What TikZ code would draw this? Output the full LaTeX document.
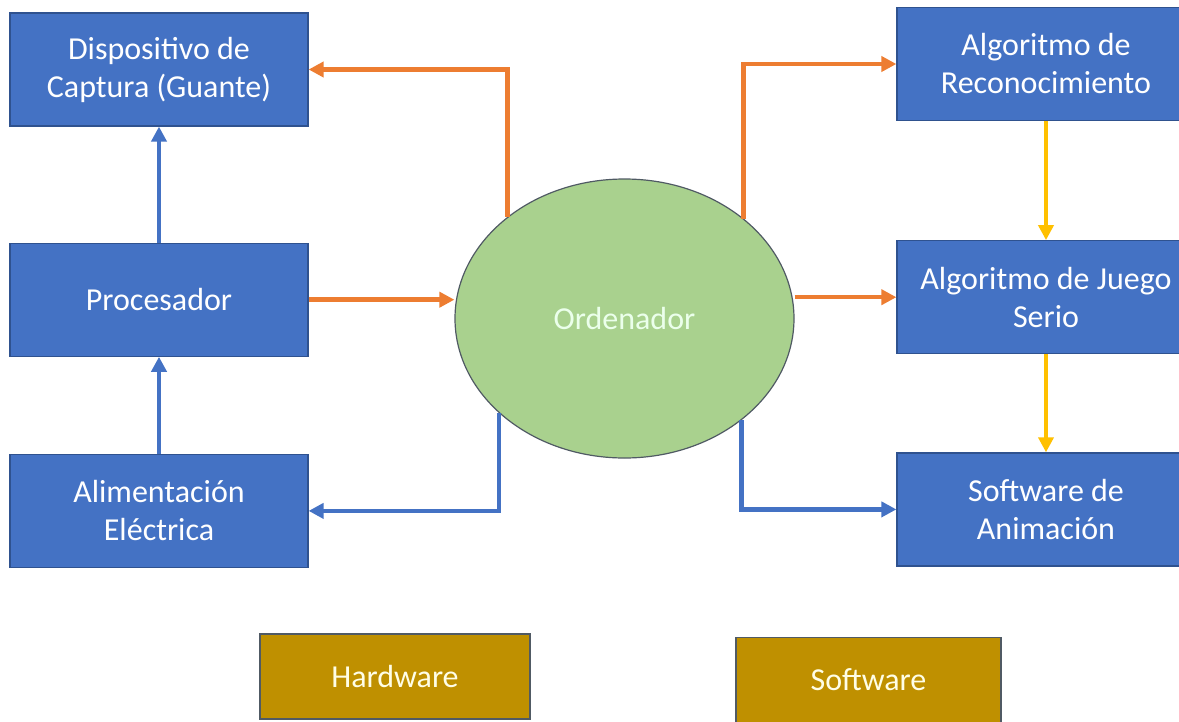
\documentclass[tikz,border=0pt]{standalone}
\usepackage{fontspec}
\setmainfont{Carlito}
\usepackage{tikz}
\usetikzlibrary{positioning, arrows.meta, shapes.geometric}
\definecolor{ofBlue}{RGB}{68,114,196}
\definecolor{ofBlueDark}{RGB}{47,82,143}
\definecolor{ofOrange}{RGB}{237,125,49}
\definecolor{ofYellow}{RGB}{255,192,0}
\definecolor{ofGreen}{RGB}{169,209,142}
\definecolor{ofGold}{RGB}{191,144,0}
\definecolor{ofSlate}{RGB}{80,90,100}

\begin{document}
\begin{tikzpicture}[
    x=1pt, y=-1pt,
    block/.style={rectangle, draw=ofBlueDark, line width=1.2pt, fill=ofBlue, text=white, minimum width=298pt, minimum height=113pt, inner sep=0pt, align=center, font=\fontsize{32}{38}\selectfont},
    legend/.style={block, draw=ofSlate, fill=ofGold, text=white!90!yellow, minimum height=85pt},
    arrow/.style={-{Triangle[length=15pt, width=15pt]}, line width=4.5pt}
]
\fill[white] (0,0) rectangle (1179,721);
\useasboundingbox (0,0) rectangle (1179,721);

% Nodes
\node[block] (disp) at (159,69.5) {Dispositivo de\\Captura (Guante)};
\node[block, below=116pt of disp] (proc) {Procesador};
\node[block, below=97pt of proc] (alim) {Alimentación\\Eléctrica};

\node[block] (reco) at (1046,64) {Algoritmo de\\Reconocimiento};
\node[block, below=119pt of reco] (juego) {Algoritmo de Juego\\Serio};
\node[block, below=98pt of juego] (anim) {Software de\\Animación};

\node[ellipse, draw=ofSlate, line width=1.2pt, fill=ofGreen, minimum width=339pt, minimum height=279pt, inner sep=0pt, text=white!92!green, font=\fontsize{32}{38}\selectfont] (ord) at (624.5,318.5) {Ordenador};

% Legend
\node[legend, minimum width=270pt] (hw) at (395,676.5) {Hardware};
\node[legend, minimum width=265pt] (sw) at (868.5,680) {Software};

% Arrows
\draw[arrow, ofBlue] (proc) -- (disp);
\draw[arrow, ofBlue] (alim) -- (proc);
\draw[arrow, ofOrange] (proc.east) -- (proc.east -| ord.west);
\draw[arrow, ofOrange] (ord.139.5) |- (disp.east);
\draw[arrow, ofBlue] (ord.217.3) |- (alim.east);

\draw[arrow, ofOrange] (ord.40.1) |- (reco.west);
\draw[arrow, ofOrange] (juego.west -| ord.east) -- (juego.west);
\draw[arrow, ofBlue] (ord.319.9) |- (anim.west);
\draw[arrow, ofYellow] (reco) -- (juego);
\draw[arrow, ofYellow] (juego) -- (anim);
\end{tikzpicture}
\end{document}
